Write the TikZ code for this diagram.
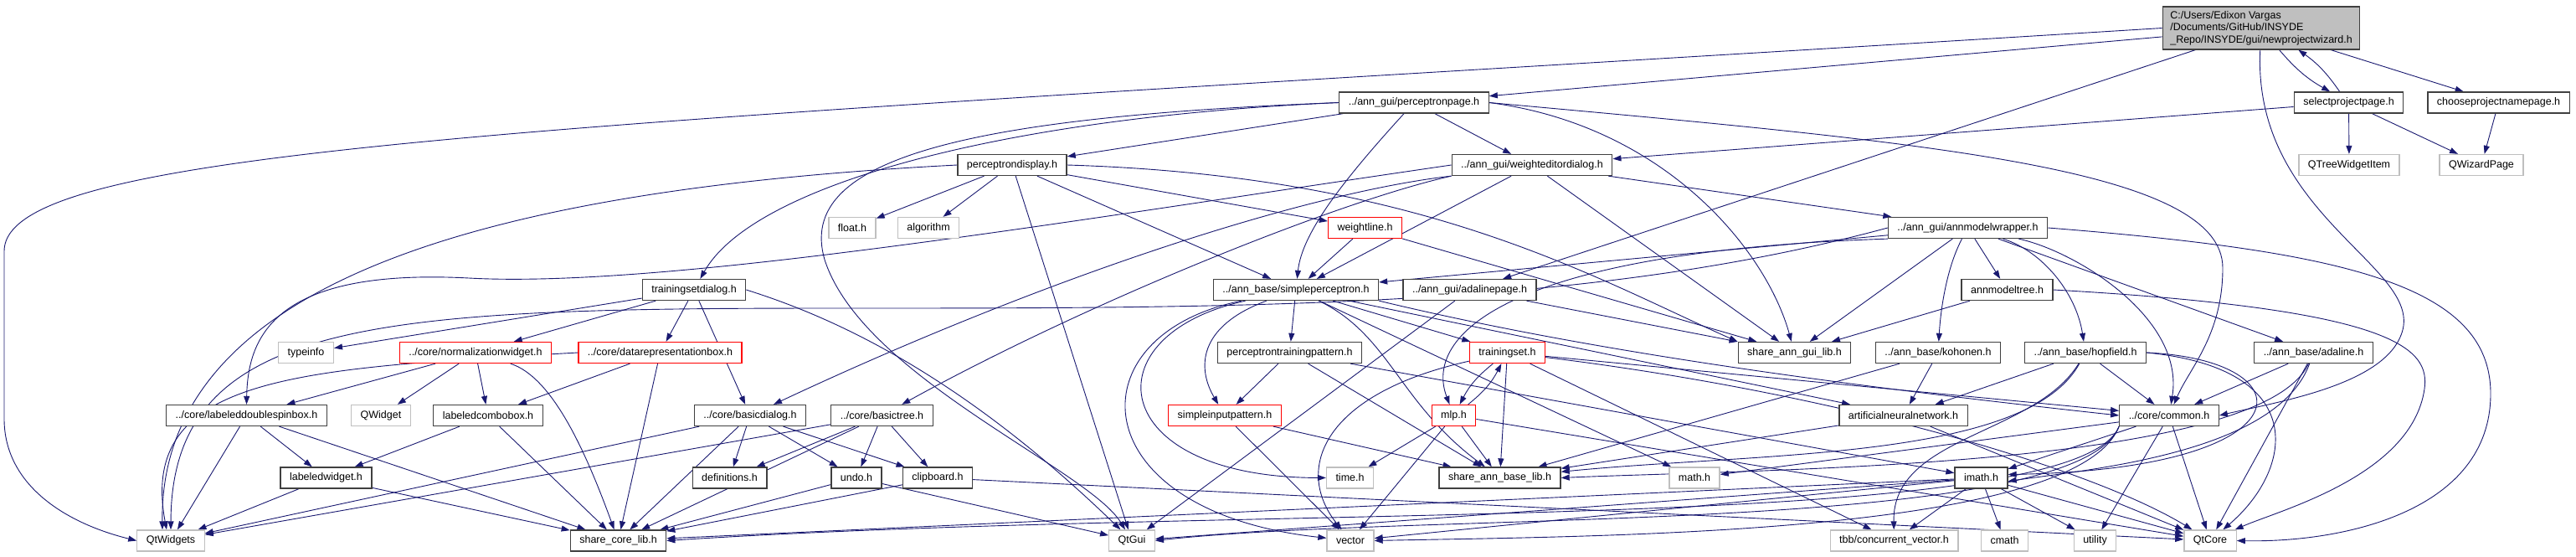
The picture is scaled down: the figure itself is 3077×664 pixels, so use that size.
\documentclass[tikz,border=0pt]{standalone}
\usepackage{fontspec}
\setmainfont{Liberation Sans}
\usepackage{xcolor}
\usepackage{tikz}
\usetikzlibrary{arrows.meta,backgrounds}
\definecolor{deplink}{HTML}{191970}
\definecolor{boxline}{HTML}{404040}
\definecolor{sysline}{HTML}{BFBFBF}
\definecolor{rootfill}{HTML}{BFBFBF}

\begin{document}
\begin{tikzpicture}[x=1pt,y=-1pt,font=\fontsize{12.5}{14.6}\selectfont,
  hdr/.style={draw=boxline,fill=white,line width=1.3pt,minimum height=25pt,inner xsep=11pt,inner ysep=0pt},
  redhdr/.style={hdr,draw=red},
  syshdr/.style={hdr,draw=sysline},
  dep/.style={draw=deplink,line width=0.9pt,-{Triangle[length=10pt,width=7pt]}},
  every edge/.style={dep}]
\useasboundingbox (0,0) rectangle (3077,664);
\node[hdr,fill=rootfill,align=left,inner ysep=5pt,inner xsep=9pt] (npw) at (2701,33.5) {C:/Users/Edixon Vargas\\/Documents/GitHub/INSYDE\\\_Repo/INSYDE/gui/newprojectwizard.h};
\node[hdr] (selpage) at (2805.5,122.5) {selectprojectpage.h};
\node[hdr] (choosepage) at (2984.5,122.5) {chooseprojectnamepage.h};
\node[syshdr] (treeitem) at (2806,197) {QTreeWidgetItem};
\node[syshdr] (wizpage) at (2964,197) {QWizardPage};
\node[hdr] (pcpage) at (1689,122.5) {../ann\_gui/perceptronpage.h};
\node[hdr] (pcdisplay) at (1209,197) {perceptrondisplay.h};
\node[hdr] (wedialog) at (1830,197) {../ann\_gui/weighteditordialog.h};
\node[hdr] (amwrapper) at (2350.5,272) {../ann\_gui/annmodelwrapper.h};
\node[syshdr] (floath) at (1018,272) {float.h};
\node[syshdr] (algorithm) at (1109,272) {algorithm};
\node[redhdr] (wline) at (1630.5,272) {weightline.h};
\node[hdr] (tsdialog) at (829,346) {trainingsetdialog.h};
\node[hdr] (sperceptron) at (1548,346) {../ann\_base/simpleperceptron.h};
\node[hdr] (adpage) at (1755.5,346) {../ann\_gui/adalinepage.h};
\node[hdr] (amtree) at (2397.5,346) {annmodeltree.h};
\node[syshdr] (typeinfo) at (365.5,421) {typeinfo};
\node[redhdr] (normwidget) at (568,421) {../core/normalizationwidget.h};
\node[redhdr] (datarep) at (788.5,421) {../core/datarepresentationbox.h};
\node[hdr] (ptpattern) at (1540.5,421) {perceptrontrainingpattern.h};
\node[redhdr] (tset) at (1800.5,421) {trainingset.h};
\node[hdr] (sharegui) at (2143.5,421) {share\_ann\_gui\_lib.h};
\node[hdr] (kohonen) at (2315,421) {../ann\_base/kohonen.h};
\node[hdr] (hopfield) at (2491,421) {../ann\_base/hopfield.h};
\node[hdr] (adaline) at (2763.5,421) {../ann\_base/adaline.h};
\node[hdr] (ldspin) at (294.5,496) {../core/labeleddoublespinbox.h};
\node[syshdr] (qwidget) at (455,496) {QWidget};
\node[hdr] (lcombo) at (583,496) {labeledcombobox.h};
\node[hdr] (bdialog) at (896,496) {../core/basicdialog.h};
\node[hdr] (btree) at (1053.5,496) {../core/basictree.h};
\node[redhdr] (sipattern) at (1463,496) {simpleinputpattern.h};
\node[redhdr] (mlp) at (1736.5,496) {mlp.h};
\node[hdr] (ann) at (2273.5,496) {artificialneuralnetwork.h};
\node[hdr] (common) at (2591,496) {../core/common.h};
\node[hdr] (lwidget) at (389.5,570.5) {labeledwidget.h};
\node[hdr] (defs) at (871.5,570.5) {definitions.h};
\node[hdr] (undo) at (1023,570.5) {undo.h};
\node[hdr] (clipboard) at (1120,570.5) {clipboard.h};
\node[syshdr] (timeh) at (1612.5,570.5) {time.h};
\node[hdr] (sharebase) at (1791.5,570.5) {share\_ann\_base\_lib.h};
\node[syshdr] (mathh) at (2024,570.5) {math.h};
\node[hdr] (imath) at (2366.5,570.5) {imath.h};
\node[syshdr] (qtwidgets) at (204,645.5) {QtWidgets};
\node[hdr] (sharecore) at (738.5,645.5) {share\_core\_lib.h};
\node[syshdr] (qtgui) at (1352,645.5) {QtGui};
\node[syshdr] (vector) at (1613,645.5) {vector};
\node[syshdr] (tbb) at (2262.5,645.5) {tbb/concurrent\_vector.h};
\node[syshdr] (cmath) at (2394.5,645.5) {cmath};
\node[syshdr] (utility) at (2502.5,645.5) {utility};
\node[syshdr] (qtcore) at (2640,645.5) {QtCore};
\begin{scope}[on background layer]
\path (npw) edge[bend right=10] (selpage) edge (choosepage) edge (pcpage) edge (adpage);
\path (selpage) edge[bend right=10] (npw) edge (treeitem) edge (wizpage) edge (wedialog);
\path (choosepage) edge (wizpage);
\path (pcpage) edge (pcdisplay) edge (wedialog);
\path (pcdisplay) edge (floath) edge (algorithm) edge (wline) edge (sperceptron) edge (qtgui);
\path (wedialog) edge (amwrapper) edge (sperceptron) edge (sharegui);
\path (wline) edge (sperceptron) edge (sharegui);
\path (amwrapper) edge (sperceptron) edge (amtree) edge (adaline) edge (sharegui);
\path (amtree) edge (sharegui);
\path (adpage) edge (sharegui) edge (qtgui);
\path (tsdialog) edge (typeinfo) edge (normwidget) edge (datarep) edge (bdialog);
\path (normwidget) edge (ldspin) edge (qwidget) edge (lcombo);
\path (datarep) edge (lcombo) edge (sharecore);
\path (ldspin) edge (lwidget) edge (qtwidgets) edge (sharecore);
\path (lcombo) edge (lwidget) edge (sharecore);
\path (lwidget) edge (qtwidgets) edge (sharecore);
\path (bdialog) edge (defs) edge (undo) edge (clipboard) edge (sharecore) edge (qtwidgets);
\path (btree) edge (defs) edge (undo) edge (clipboard) edge (sharecore) edge (qtwidgets);
\path (undo) edge (sharecore) edge (qtgui);
\path (clipboard) edge (sharecore) edge (qtcore);
\path (sperceptron) edge (ptpattern) edge (tset) edge (ann) edge (mathh);
\path (ptpattern) edge (sipattern) edge (sharebase) edge (imath);
\path (tset) edge[bend right=12] (mlp) edge (sharebase) edge (common) edge (tbb);
\path (mlp) edge[bend right=12] (tset) edge (timeh) edge (vector) edge (sharebase) edge (qtcore);
\path (sipattern) edge (vector) edge (sharebase);
\path (kohonen) edge (ann) edge (sharebase);
\path (hopfield) edge (ann) edge (common);
\path (adaline) edge (common) edge (qtcore);
\path (ann) edge (sharebase) edge (qtcore);
\path (common) edge (imath) edge (mathh) edge (utility) edge (qtcore);
\path (imath) edge (tbb) edge (cmath) edge (utility) edge (qtcore) edge (vector) edge (qtgui) edge (sharecore);
\draw[dep] (npw.west) .. controls (700,150) and (5,170) .. (5,300) -- (5,500) .. controls (5,580) and (80,625) .. (qtwidgets.west);
\draw[dep] (npw) .. controls (2690,260) and (2900,320) .. (2868,400) .. controls (2845,460) and (2720,480) .. (common.east);
\draw[dep] (pcpage.west) .. controls (1200,140) and (900,220) .. (tsdialog);
\draw[dep] (pcpage) .. controls (1600,220) and (1555,280) .. (sperceptron);
\draw[dep] (pcpage.east) .. controls (1990,150) and (2110,300) .. (sharegui);
\draw[dep] (pcpage.east) .. controls (2300,170) and (2655,200) .. (2655,320) .. controls (2655,400) and (2615,440) .. (common);
\draw[dep] (pcpage.west) .. controls (1150,140) and (950,190) .. (985,310) .. controls (1030,450) and (1300,560) .. (qtgui);
\draw[dep] (pcdisplay.east) .. controls (1700,210) and (1900,330) .. (sharegui.north west);
\draw[dep] (pcdisplay.west) .. controls (600,225) and (190,330) .. ([xshift=-10pt]qtwidgets.north);
\draw[dep] (wedialog.south west) .. controls (1600,240) and (1300,360) .. (btree);
\draw[dep] (wedialog.south west) .. controls (1560,230) and (1250,330) .. (bdialog);
\draw[dep] (wedialog.west) .. controls (1300,260) and (800,345) .. (560,332) .. controls (330,320) and (296,400) .. (ldspin.north);
\draw[dep] (amwrapper) .. controls (2325,320) and (2318,370) .. (kohonen);
\draw[dep] (amwrapper) .. controls (2440,300) and (2480,350) .. (hopfield);
\draw[dep] (amwrapper.south west) .. controls (1800,300) and (1700,400) .. (mlp);
\draw[dep] (amwrapper) .. controls (2480,300) and (2610,380) .. (common);
\draw[dep] (amwrapper.east) .. controls (2800,300) and (2975,340) .. (2975,470) .. controls (2975,610) and (2800,648) .. (qtcore.east);
\draw[dep] (amtree.east) .. controls (2880,370) and (2905,420) .. (2895,470) .. controls (2875,570) and (2720,610) .. (qtcore);
\draw[dep] (amwrapper.west) .. controls (1900,368) and (1500,368) .. (1000,368) .. controls (450,368) and (205,380) .. (qtwidgets.north);
\draw[dep] (tsdialog.east) .. controls (1000,380) and (1150,450) .. (qtgui);
\draw[dep] (datarep.west) .. controls (350,440) and (165,450) .. ([xshift=-5pt]qtwidgets.north);
\draw[dep] (normwidget) .. controls (660,450) and (700,540) .. (sharecore);
\draw[dep] (sperceptron) .. controls (1430,390) and (1430,440) .. (sipattern);
\draw[dep] (sperceptron) .. controls (1660,400) and (1670,480) .. (sharebase);
\draw[dep] (sperceptron.south east) .. controls (1900,420) and (2200,460) .. (common.west);
\draw[dep] (sperceptron) .. controls (1300,400) and (1320,570) .. (timeh);
\draw[dep] (sperceptron) .. controls (1280,400) and (1290,610) .. (vector);
\draw[dep] (tset) .. controls (1580,470) and (1545,560) .. (vector);
\draw[dep] (tset) .. controls (2200,470) and (2500,560) .. (qtcore);
\draw[dep] (hopfield) .. controls (2420,550) and (2100,540) .. (sharebase);
\draw[dep] (hopfield) .. controls (2430,520) and (2260,520) .. (tbb);
\draw[dep] (hopfield.east) .. controls (2760,440) and (2740,560) .. (qtcore);
\draw[dep] (hopfield.east) .. controls (2760,430) and (2760,560) .. ([yshift=4pt]imath.east);
\draw[dep] (adaline) .. controls (2700,560) and (2100,560) .. (sharebase.east);
\draw[dep] (adaline) .. controls (2720,540) and (2500,560) .. ([yshift=-4pt]imath.east);
\draw[dep] (common.south west) .. controls (2480,640) and (1900,640) .. (vector.east);
\draw[dep] (common.south west) .. controls (2480,640) and (1700,610) .. (qtgui.east);
\draw[dep] (common.south west) .. controls (2480,640) and (1500,600) .. (sharecore.east);
\end{scope}
\end{tikzpicture}
\end{document}
